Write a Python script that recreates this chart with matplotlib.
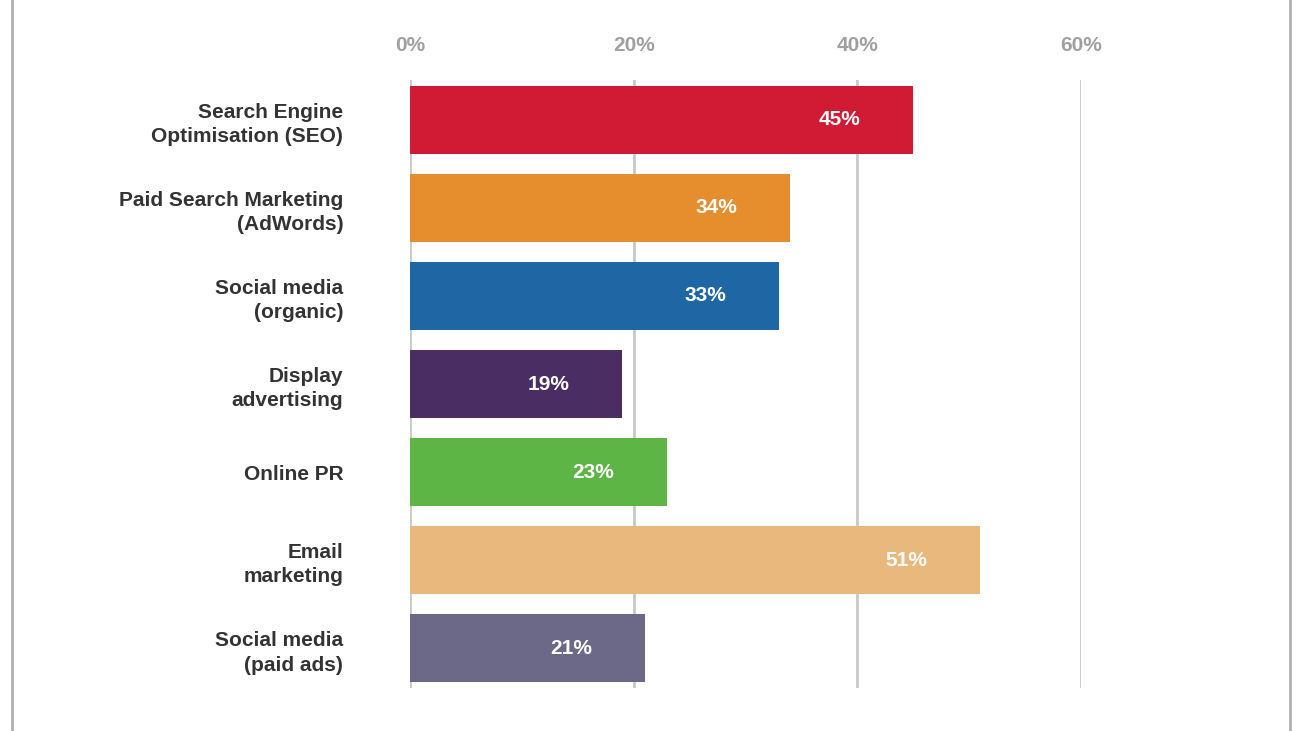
import matplotlib
matplotlib.use("Agg")
import matplotlib.pyplot as plt
from matplotlib.lines import Line2D

categories = ["Search Engine\nOptimisation (SEO)", "Paid Search Marketing\n(AdWords)",
              "Social media\n(organic)", "Display\nadvertising", "Online PR",
              "Email\nmarketing", "Social media\n(paid ads)"]
values = [45, 34, 33, 19, 23, 51, 21]
colors = ["#d11a33", "#e68d2e", "#1f67a4", "#4a2d63", "#5cb545", "#e8b87c", "#6b6888"]
ticks = [0, 20, 40, 60]

fig = plt.figure(figsize=(13, 7.31), dpi=100)
ax = fig.add_axes([410/1300, 1-688/731, (1081-410)/1300, (688-80)/731])

ypos = range(len(values))
ax.barh(ypos, values, height=0.77, color=colors, zorder=2)
for y, v in zip(ypos, values):
    ax.annotate(f"{v}%", (v, y), xytext=(-38, 0), textcoords="offset points",
                ha="right", va="center", color="white", fontsize=15,
                fontweight="bold", family="Liberation Sans")

ax.set_xlim(0, 60)
ax.set_ylim(6.45, -0.45)
ax.set_xticks(ticks)
ax.set_xticklabels([f"{t}%" for t in ticks], color="#a0a0a0", fontsize=15,
                   fontweight="bold", family="Liberation Sans")
ax.xaxis.tick_top()
ax.tick_params(axis="x", length=0, pad=18)
ax.tick_params(axis="y", length=0, pad=48)
ax.set_yticks(list(ypos))
ax.set_yticklabels(categories, fontsize=15, fontweight="bold", color="#333333",
                   family="Liberation Sans", linespacing=1.35)
ax.grid(axis="x", color="#c8c8c8", linewidth=2, zorder=0)
for s in ax.spines.values():
    s.set_visible(False)

fig.add_artist(Line2D([12/1300, 12/1300], [0, 1], color="#b0b0b0", linewidth=2))
fig.add_artist(Line2D([1290/1300, 1290/1300], [0, 1], color="#b0b0b0", linewidth=2))

fig.savefig("out.png", dpi=100)
